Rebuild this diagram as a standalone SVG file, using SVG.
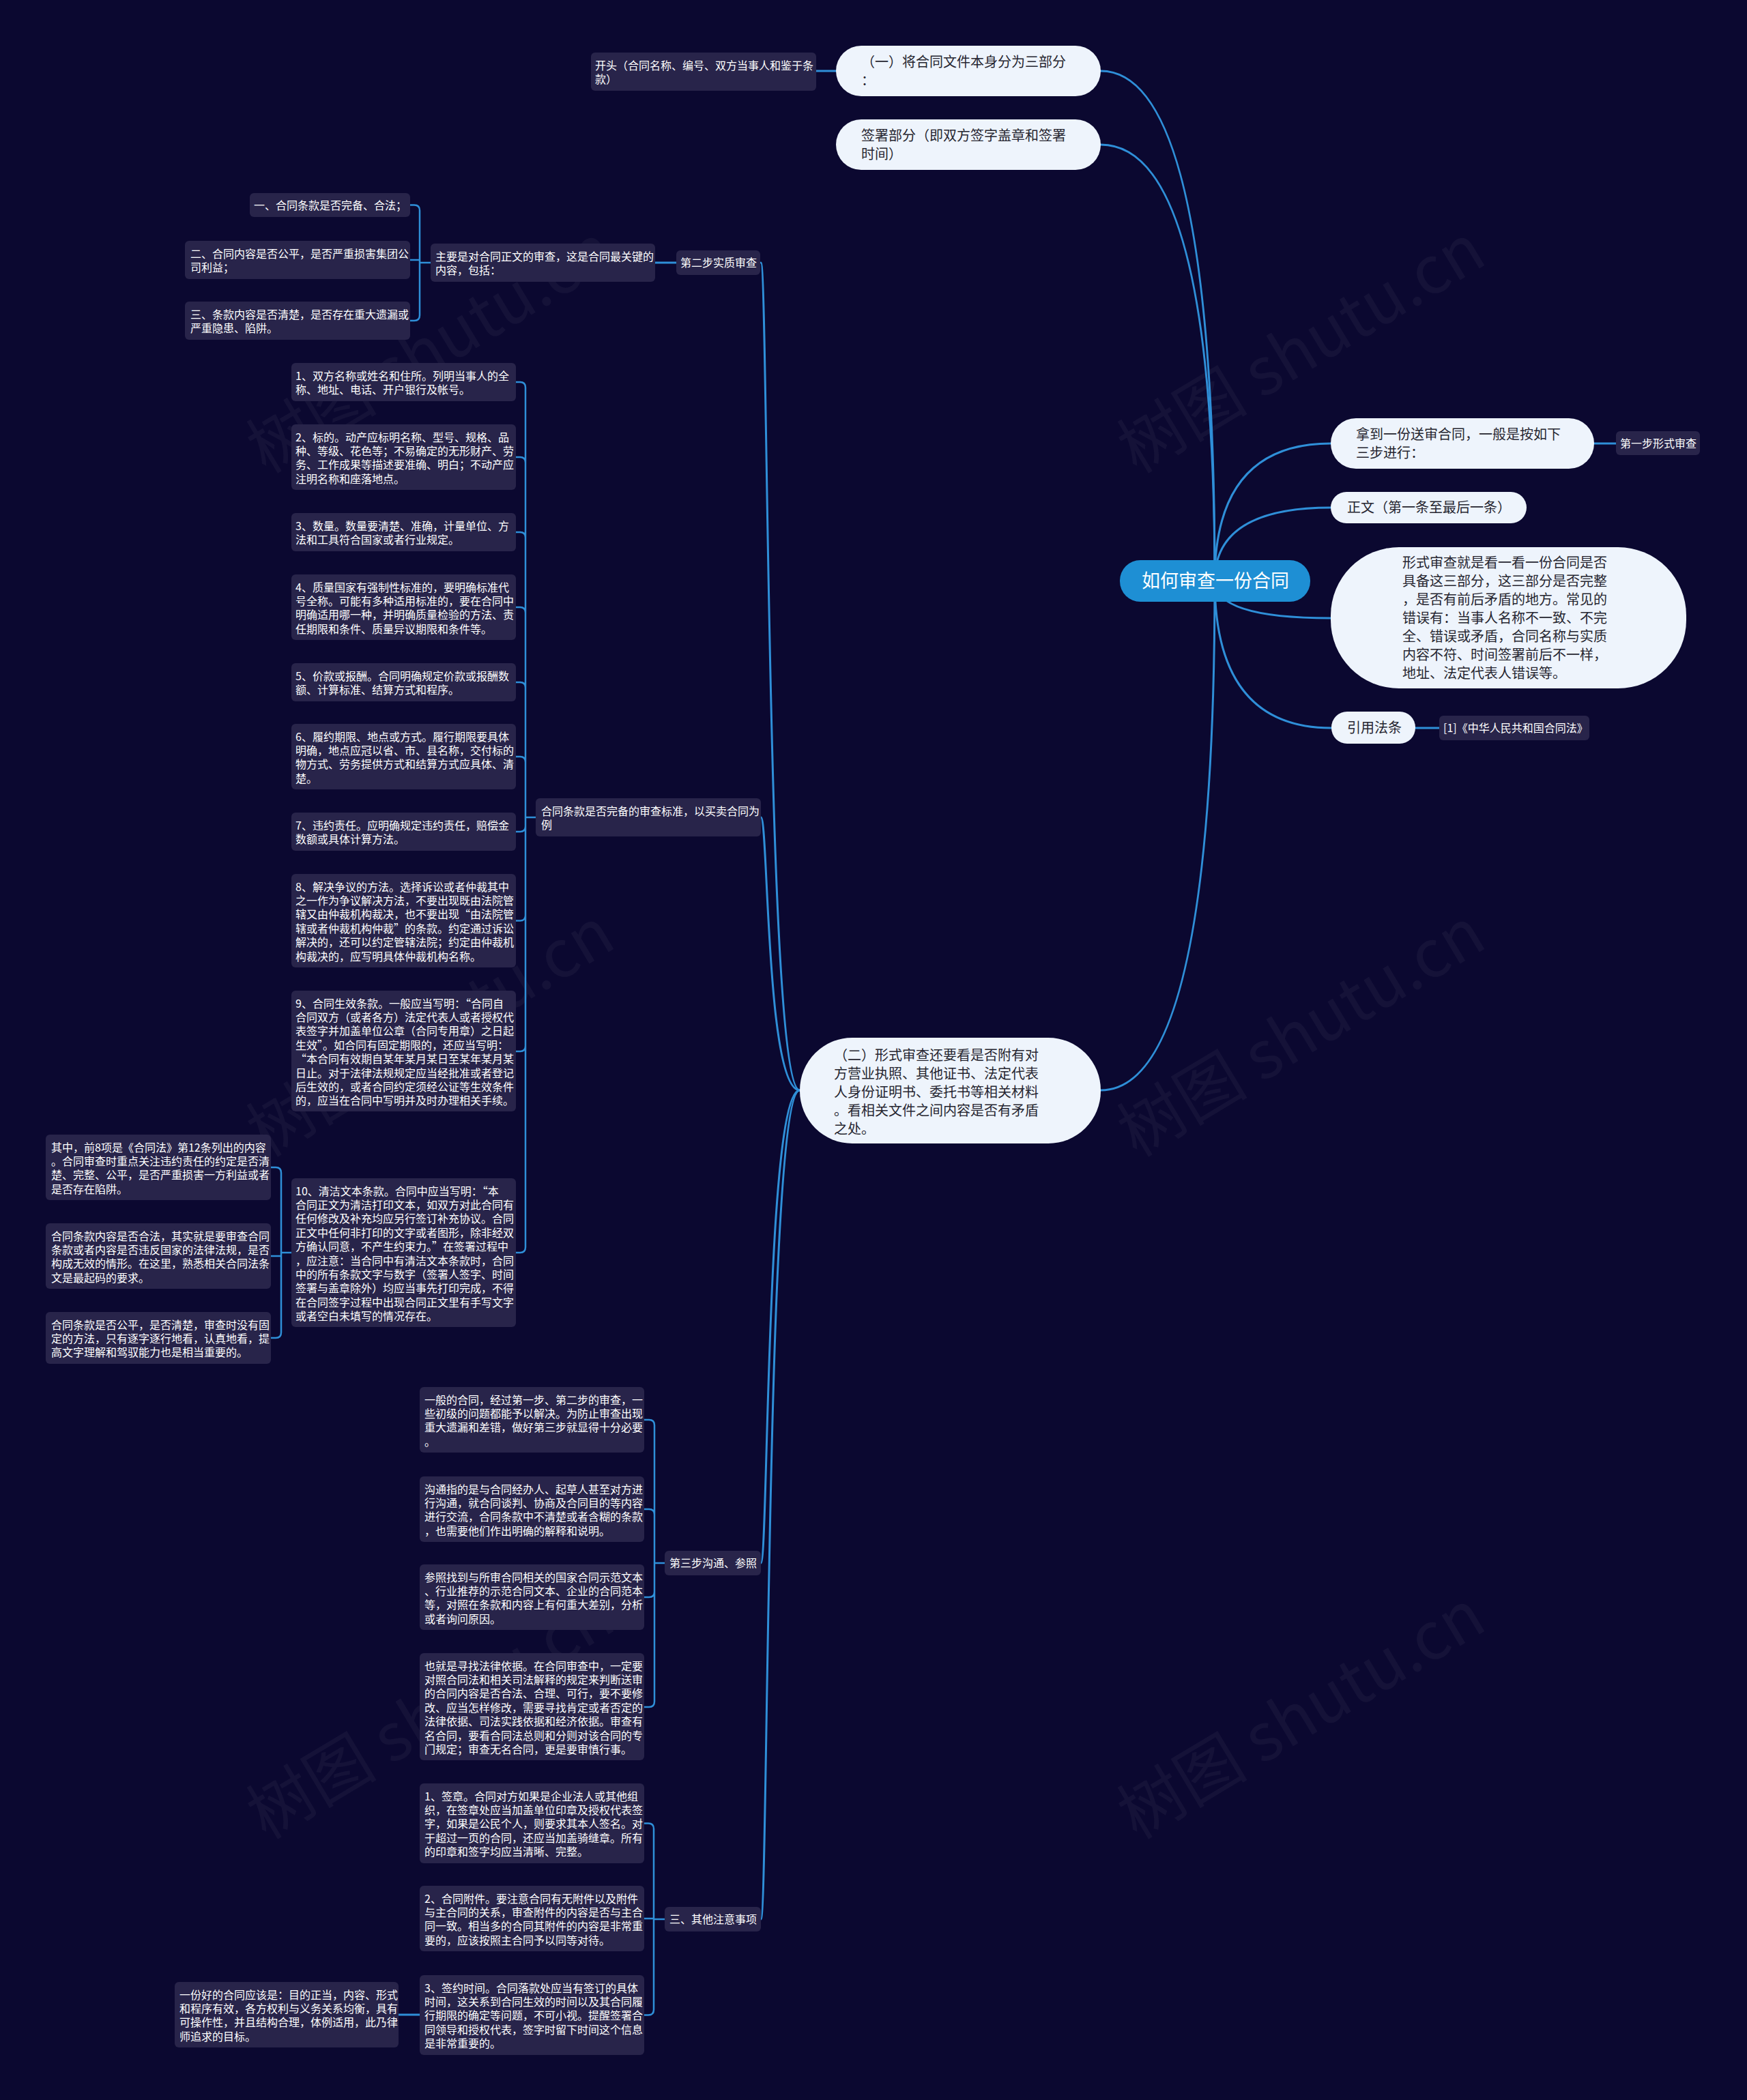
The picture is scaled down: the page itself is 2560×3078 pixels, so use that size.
<svg xmlns="http://www.w3.org/2000/svg" width="2560" height="3078" viewBox="0 0 2560 3078">
<style>
.bg{fill:#0b0830}
.leaf{fill:#28244a}
.pill{fill:#eef4fc}
.lt{font-family:"Noto Sans CJK SC","Noto Sans",sans-serif;font-size:16px;fill:#ffffff}
.pt{font-family:"Noto Sans CJK SC","Noto Sans",sans-serif;font-size:20px;fill:#262630}
.rt{font-family:"Noto Sans CJK SC","Noto Sans",sans-serif;font-size:27px;fill:#ffffff}
.wm{font-family:"Noto Sans CJK SC","Noto Sans",sans-serif;font-size:96px;fill:#ffffff;fill-opacity:0.045}
.ln{fill:none;stroke:#2f8fd8;stroke-width:3;stroke-linecap:round}
.br{fill:none;stroke:#2f8fd8;stroke-width:2.5;stroke-linecap:round}
</style>
<rect class="bg" x="0" y="0" width="2560" height="3078"/>
<g id="watermarks">
<text class="wm" text-anchor="middle" transform="translate(648 540) rotate(-31)">树图 shutu.cn</text>
<text class="wm" text-anchor="middle" transform="translate(1924 540) rotate(-31)">树图 shutu.cn</text>
<text class="wm" text-anchor="middle" transform="translate(648 1542) rotate(-31)">树图 shutu.cn</text>
<text class="wm" text-anchor="middle" transform="translate(1924 1542) rotate(-31)">树图 shutu.cn</text>
<text class="wm" text-anchor="middle" transform="translate(648 2542) rotate(-31)">树图 shutu.cn</text>
<text class="wm" text-anchor="middle" transform="translate(1924 2542) rotate(-31)">树图 shutu.cn</text>
</g>
<g id="connectors">
<path class="ln" d="M1780 851Q1780 104 1613 104"/>
<path class="ln" d="M1780 851Q1780 212 1613 212"/>
<path class="ln" d="M1780 851Q1780 1598 1613 1598"/>
<path class="ln" d="M1780 851Q1780 650 1950 650"/>
<path class="ln" d="M1780 851Q1780 744 1950 744"/>
<path class="ln" d="M1780 851Q1780 906 1950 906"/>
<path class="ln" d="M1780 851Q1780 1067 1951 1067"/>
<path class="ln" d="M1172 1598C1122 1598 1126 385 1115 385"/>
<path class="ln" d="M1172 1598C1122 1598 1126 1198 1115 1198"/>
<path class="ln" d="M1172 1598C1122 1598 1126 2291 1115 2291"/>
<path class="ln" d="M1172 1598C1122 1598 1126 2813 1115 2813"/>
<path class="ln" d="M1225 104H1196"/>
<path class="ln" d="M2336 650H2368"/>
<path class="ln" d="M2074 1067H2109"/>
<path class="ln" d="M991 385H960"/>
<path class="ln" d="M615 2953H584"/>
<path class="br" d="M631 385H615M615 308.5V462M615 308.5Q615 300.5 607 300.5H601M615 381H601M615 462Q615 470 607 470H601"/>
<path class="br" d="M785 1198H770M770 568V1828M770 568Q770 560 762 560H756M770 678Q770 670 762 670H756M770 788Q770 780 762 780H756M770 898Q770 890 762 890H756M770 1008Q770 1000 762 1000H756M770 1117Q770 1109 762 1109H756M770 1211Q770 1219 762 1219H756M770 1341.5Q770 1349.5 762 1349.5H756M770 1533Q770 1541 762 1541H756M770 1828Q770 1836 762 1836H756"/>
<path class="br" d="M427 1836H412M412 1719V1953M412 1719Q412 1711 404 1711H397M412 1841H397M412 1953Q412 1961 404 1961H397"/>
<path class="br" d="M974 2291H959M959 2089V2494M959 2089Q959 2081 951 2081H944M959 2220Q959 2212 951 2212H944M959 2333Q959 2341 951 2341H944M959 2494Q959 2502 951 2502H944"/>
<path class="br" d="M974 2813H958M958 2680.5V2945.5M958 2680.5Q958 2672.5 950 2672.5H944M958 2812H944M958 2945.5Q958 2953.5 950 2953.5H944"/>
</g>
<g id="root"><rect x="1641" y="821" width="279" height="61" rx="30" fill="#1e8fd4"/><text class="rt" x="1781" y="861" text-anchor="middle">如何审查一份合同</text></g>
<g id="part1"><rect class="pill" x="1225" y="67" width="388" height="74" rx="37"/><text class="pt"><tspan x="1262" y="97.5">（一）将合同文件本身分为三部分</tspan><tspan x="1262" y="124.5">：</tspan></text></g>
<g id="part1-head"><rect class="leaf" x="866" y="77" width="330" height="56" rx="6"/><text class="lt"><tspan x="872" y="101.5">开头（合同名称、编号、双方当事人和鉴于条</tspan><tspan x="872" y="121.9">款）</tspan></text></g>
<g id="part-sign"><rect class="pill" x="1225" y="175" width="388" height="74" rx="37"/><text class="pt"><tspan x="1262" y="206">签署部分（即双方签字盖章和签署</tspan><tspan x="1262" y="233">时间）</tspan></text></g>
<g id="part2"><rect class="pill" x="1172" y="1521" width="441" height="155" rx="77"/><text class="pt"><tspan x="1222" y="1553.5">（二）形式审查还要看是否附有对</tspan><tspan x="1222" y="1580.5">方营业执照、其他证书、法定代表</tspan><tspan x="1222" y="1607.5">人身份证明书、委托书等相关材料</tspan><tspan x="1222" y="1634.5">。看相关文件之间内容是否有矛盾</tspan><tspan x="1222" y="1661.5">之处。</tspan></text></g>
<g id="steps"><rect class="pill" x="1950" y="613" width="386" height="74" rx="37"/><text class="pt"><tspan x="1987" y="644">拿到一份送审合同，一般是按如下</tspan><tspan x="1987" y="671">三步进行：</tspan></text></g>
<g id="step1"><rect class="leaf" x="2368" y="632" width="123" height="35" rx="6"/><text class="lt" x="2374" y="655.5">第一步形式审查</text></g>
<g id="body"><rect class="pill" x="1950" y="721" width="287" height="46" rx="23"/><text class="pt" x="1974" y="751">正文（第一条至最后一条）</text></g>
<g id="formal"><rect class="pill" x="1950" y="802" width="521" height="207" rx="100"/><text class="pt"><tspan x="2055" y="832">形式审查就是看一看一份合同是否</tspan><tspan x="2055" y="859">具备这三部分，这三部分是否完整</tspan><tspan x="2055" y="886">，是否有前后矛盾的地方。常见的</tspan><tspan x="2055" y="913">错误有：当事人名称不一致、不完</tspan><tspan x="2055" y="940">全、错误或矛盾，合同名称与实质</tspan><tspan x="2055" y="967">内容不符、时间签署前后不一样，</tspan><tspan x="2055" y="994">地址、法定代表人错误等。</tspan></text></g>
<g id="cite"><rect class="pill" x="1951" y="1043" width="123" height="47" rx="23"/><text class="pt" x="1974" y="1073.5">引用法条</text></g>
<g id="cite1"><rect class="leaf" x="2109" y="1049" width="220" height="36" rx="6"/><text class="lt" x="2115" y="1073">[1]《中华人民共和国合同法》</text></g>
<g id="step2"><rect class="leaf" x="991" y="367" width="123" height="36" rx="6"/><text class="lt" x="997" y="391">第二步实质审查</text></g>
<g id="step2-main"><rect class="leaf" x="631" y="357" width="329" height="56" rx="6"/><text class="lt"><tspan x="638" y="381.5">主要是对合同正文的审查，这是合同最关键的</tspan><tspan x="638" y="401.9">内容，包括：</tspan></text></g>
<g id="s2-a"><rect class="leaf" x="366" y="283" width="235" height="35" rx="6"/><text class="lt" x="372" y="306.5">一、合同条款是否完备、合法；</text></g>
<g id="s2-b"><rect class="leaf" x="271" y="353" width="330" height="56" rx="6"/><text class="lt"><tspan x="279" y="377.5">二、合同内容是否公平，是否严重损害集团公</tspan><tspan x="279" y="397.9">司利益；</tspan></text></g>
<g id="s2-c"><rect class="leaf" x="271" y="442" width="330" height="56" rx="6"/><text class="lt"><tspan x="279" y="466.5">三、条款内容是否清楚，是否存在重大遗漏或</tspan><tspan x="279" y="486.9">严重隐患、陷阱。</tspan></text></g>
<g id="std"><rect class="leaf" x="785" y="1170" width="330" height="56" rx="6"/><text class="lt"><tspan x="793" y="1194.5">合同条款是否完备的审查标准，以买卖合同为</tspan><tspan x="793" y="1214.9">例</tspan></text></g>
<g id="c1"><rect class="leaf" x="427" y="532" width="329" height="56" rx="6"/><text class="lt"><tspan x="433" y="556.5">1、双方名称或姓名和住所。列明当事人的全</tspan><tspan x="433" y="576.9">称、地址、电话、开户银行及帐号。</tspan></text></g>
<g id="c2"><rect class="leaf" x="427" y="622" width="329" height="96" rx="6"/><text class="lt"><tspan x="433" y="646.5">2、标的。动产应标明名称、型号、规格、品</tspan><tspan x="433" y="666.9">种、等级、花色等；不易确定的无形财产、劳</tspan><tspan x="433" y="687.3">务、工作成果等描述要准确、明白；不动产应</tspan><tspan x="433" y="707.7">注明名称和座落地点。</tspan></text></g>
<g id="c3"><rect class="leaf" x="427" y="752" width="329" height="56" rx="6"/><text class="lt"><tspan x="433" y="776.5">3、数量。数量要清楚、准确，计量单位、方</tspan><tspan x="433" y="796.9">法和工具符合国家或者行业规定。</tspan></text></g>
<g id="c4"><rect class="leaf" x="427" y="842" width="329" height="96" rx="6"/><text class="lt"><tspan x="433" y="866.5">4、质量国家有强制性标准的，要明确标准代</tspan><tspan x="433" y="886.9">号全称。可能有多种适用标准的，要在合同中</tspan><tspan x="433" y="907.3">明确适用哪一种，并明确质量检验的方法、责</tspan><tspan x="433" y="927.7">任期限和条件、质量异议期限和条件等。</tspan></text></g>
<g id="c5"><rect class="leaf" x="427" y="972" width="329" height="56" rx="6"/><text class="lt"><tspan x="433" y="996.5">5、价款或报酬。合同明确规定价款或报酬数</tspan><tspan x="433" y="1016.9">额、计算标准、结算方式和程序。</tspan></text></g>
<g id="c6"><rect class="leaf" x="427" y="1061" width="329" height="96" rx="6"/><text class="lt"><tspan x="433" y="1085.5">6、履约期限、地点或方式。履行期限要具体</tspan><tspan x="433" y="1105.9">明确，地点应冠以省、市、县名称，交付标的</tspan><tspan x="433" y="1126.3">物方式、劳务提供方式和结算方式应具体、清</tspan><tspan x="433" y="1146.7">楚。</tspan></text></g>
<g id="c7"><rect class="leaf" x="427" y="1191" width="329" height="56" rx="6"/><text class="lt"><tspan x="433" y="1215.5">7、违约责任。应明确规定违约责任，赔偿金</tspan><tspan x="433" y="1235.9">数额或具体计算方法。</tspan></text></g>
<g id="c8"><rect class="leaf" x="427" y="1281" width="329" height="137" rx="6"/><text class="lt"><tspan x="433" y="1305.5">8、解决争议的方法。选择诉讼或者仲裁其中</tspan><tspan x="433" y="1325.9">之一作为争议解决方法，不要出现既由法院管</tspan><tspan x="433" y="1346.3">辖又由仲裁机构裁决，也不要出现“由法院管</tspan><tspan x="433" y="1366.7">辖或者仲裁机构仲裁”的条款。约定通过诉讼</tspan><tspan x="433" y="1387.1">解决的，还可以约定管辖法院；约定由仲裁机</tspan><tspan x="433" y="1407.5">构裁决的，应写明具体仲裁机构名称。</tspan></text></g>
<g id="c9"><rect class="leaf" x="427" y="1452" width="329" height="177" rx="6"/><text class="lt"><tspan x="433" y="1476.5">9、合同生效条款。一般应当写明：“合同自</tspan><tspan x="433" y="1496.9">合同双方（或者各方）法定代表人或者授权代</tspan><tspan x="433" y="1517.3">表签字并加盖单位公章（合同专用章）之日起</tspan><tspan x="433" y="1537.7">生效”。如合同有固定期限的，还应当写明：</tspan><tspan x="433" y="1558.1">“本合同有效期自某年某月某日至某年某月某</tspan><tspan x="433" y="1578.5">日止。对于法律法规规定应当经批准或者登记</tspan><tspan x="433" y="1598.9">后生效的，或者合同约定须经公证等生效条件</tspan><tspan x="433" y="1619.3">的，应当在合同中写明并及时办理相关手续。</tspan></text></g>
<g id="c10"><rect class="leaf" x="427" y="1727" width="329" height="218" rx="6"/><text class="lt"><tspan x="433" y="1751.5">10、清洁文本条款。合同中应当写明：“本</tspan><tspan x="433" y="1771.9">合同正文为清洁打印文本，如双方对此合同有</tspan><tspan x="433" y="1792.3">任何修改及补充均应另行签订补充协议。合同</tspan><tspan x="433" y="1812.7">正文中任何非打印的文字或者图形，除非经双</tspan><tspan x="433" y="1833.1">方确认同意，不产生约束力。”在签署过程中</tspan><tspan x="433" y="1853.5">，应注意：当合同中有清洁文本条款时，合同</tspan><tspan x="433" y="1873.9">中的所有条款文字与数字（签署人签字、时间</tspan><tspan x="433" y="1894.3">签署与盖章除外）均应当事先打印完成，不得</tspan><tspan x="433" y="1914.7">在合同签字过程中出现合同正文里有手写文字</tspan><tspan x="433" y="1935.1">或者空白未填写的情况存在。</tspan></text></g>
<g id="c10-a"><rect class="leaf" x="67" y="1663" width="330" height="96" rx="6"/><text class="lt"><tspan x="75" y="1687.5">其中，前8项是《合同法》第12条列出的内容</tspan><tspan x="75" y="1707.9">。合同审查时重点关注违约责任的约定是否清</tspan><tspan x="75" y="1728.3">楚、完整、公平，是否严重损害一方利益或者</tspan><tspan x="75" y="1748.7">是否存在陷阱。</tspan></text></g>
<g id="c10-b"><rect class="leaf" x="67" y="1793" width="330" height="96" rx="6"/><text class="lt"><tspan x="75" y="1817.5">合同条款内容是否合法，其实就是要审查合同</tspan><tspan x="75" y="1837.9">条款或者内容是否违反国家的法律法规，是否</tspan><tspan x="75" y="1858.3">构成无效的情形。在这里，熟悉相关合同法条</tspan><tspan x="75" y="1878.7">文是最起码的要求。</tspan></text></g>
<g id="c10-c"><rect class="leaf" x="67" y="1923" width="330" height="76" rx="6"/><text class="lt"><tspan x="75" y="1947.5">合同条款是否公平，是否清楚，审查时没有固</tspan><tspan x="75" y="1967.9">定的方法，只有逐字逐行地看，认真地看，提</tspan><tspan x="75" y="1988.3">高文字理解和驾驭能力也是相当重要的。</tspan></text></g>
<g id="step3"><rect class="leaf" x="974" y="2273" width="141" height="36" rx="6"/><text class="lt" x="981" y="2297">第三步沟通、参照</text></g>
<g id="s3-a"><rect class="leaf" x="615" y="2033" width="329" height="96" rx="6"/><text class="lt"><tspan x="622" y="2057.5">一般的合同，经过第一步、第二步的审查，一</tspan><tspan x="622" y="2077.9">些初级的问题都能予以解决。为防止审查出现</tspan><tspan x="622" y="2098.3">重大遗漏和差错，做好第三步就显得十分必要</tspan><tspan x="622" y="2118.7">。</tspan></text></g>
<g id="s3-b"><rect class="leaf" x="615" y="2164" width="329" height="96" rx="6"/><text class="lt"><tspan x="622" y="2188.5">沟通指的是与合同经办人、起草人甚至对方进</tspan><tspan x="622" y="2208.9">行沟通，就合同谈判、协商及合同目的等内容</tspan><tspan x="622" y="2229.3">进行交流，合同条款中不清楚或者含糊的条款</tspan><tspan x="622" y="2249.7">，也需要他们作出明确的解释和说明。</tspan></text></g>
<g id="s3-c"><rect class="leaf" x="615" y="2293" width="329" height="96" rx="6"/><text class="lt"><tspan x="622" y="2317.5">参照找到与所审合同相关的国家合同示范文本</tspan><tspan x="622" y="2337.9">、行业推荐的示范合同文本、企业的合同范本</tspan><tspan x="622" y="2358.3">等，对照在条款和内容上有何重大差别，分析</tspan><tspan x="622" y="2378.7">或者询问原因。</tspan></text></g>
<g id="s3-d"><rect class="leaf" x="615" y="2423" width="329" height="157" rx="6"/><text class="lt"><tspan x="622" y="2447.5">也就是寻找法律依据。在合同审查中，一定要</tspan><tspan x="622" y="2467.9">对照合同法和相关司法解释的规定来判断送审</tspan><tspan x="622" y="2488.3">的合同内容是否合法、合理、可行，要不要修</tspan><tspan x="622" y="2508.7">改、应当怎样修改，需要寻找肯定或者否定的</tspan><tspan x="622" y="2529.1">法律依据、司法实践依据和经济依据。审查有</tspan><tspan x="622" y="2549.5">名合同，要看合同法总则和分则对该合同的专</tspan><tspan x="622" y="2569.9">门规定；审查无名合同，更是要审慎行事。</tspan></text></g>
<g id="other"><rect class="leaf" x="974" y="2795" width="141" height="36" rx="6"/><text class="lt" x="981" y="2819">三、其他注意事项</text></g>
<g id="o-a"><rect class="leaf" x="615" y="2614" width="329" height="117" rx="6"/><text class="lt"><tspan x="622" y="2638.5">1、签章。合同对方如果是企业法人或其他组</tspan><tspan x="622" y="2658.9">织，在签章处应当加盖单位印章及授权代表签</tspan><tspan x="622" y="2679.3">字，如果是公民个人，则要求其本人签名。对</tspan><tspan x="622" y="2699.7">于超过一页的合同，还应当加盖骑缝章。所有</tspan><tspan x="622" y="2720.1">的印章和签字均应当清晰、完整。</tspan></text></g>
<g id="o-b"><rect class="leaf" x="615" y="2764" width="329" height="96" rx="6"/><text class="lt"><tspan x="622" y="2788.5">2、合同附件。要注意合同有无附件以及附件</tspan><tspan x="622" y="2808.9">与主合同的关系，审查附件的内容是否与主合</tspan><tspan x="622" y="2829.3">同一致。相当多的合同其附件的内容是非常重</tspan><tspan x="622" y="2849.7">要的，应该按照主合同予以同等对待。</tspan></text></g>
<g id="o-c"><rect class="leaf" x="615" y="2895" width="329" height="117" rx="6"/><text class="lt"><tspan x="622" y="2919.5">3、签约时间。合同落款处应当有签订的具体</tspan><tspan x="622" y="2939.9">时间，这关系到合同生效的时间以及其合同履</tspan><tspan x="622" y="2960.3">行期限的确定等问题，不可小视。提醒签署合</tspan><tspan x="622" y="2980.7">同领导和授权代表，签字时留下时间这个信息</tspan><tspan x="622" y="3001.1">是非常重要的。</tspan></text></g>
<g id="o-c-note"><rect class="leaf" x="256" y="2905" width="328" height="96" rx="6"/><text class="lt"><tspan x="263" y="2929.5">一份好的合同应该是：目的正当，内容、形式</tspan><tspan x="263" y="2949.9">和程序有效，各方权利与义务关系均衡，具有</tspan><tspan x="263" y="2970.3">可操作性，并且结构合理，体例适用，此乃律</tspan><tspan x="263" y="2990.7">师追求的目标。</tspan></text></g>
</svg>
